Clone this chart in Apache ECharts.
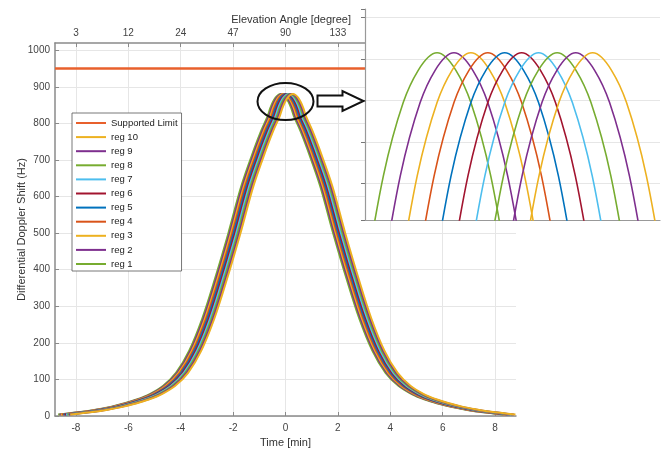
<!DOCTYPE html>
<html>
<head>
<meta charset="utf-8" />
<title>Differential Doppler Shift</title>
<script src="https://cdn.jsdelivr.net/npm/echarts@6/dist/echarts.min.js"></script>
<style>
  html, body { margin: 0; padding: 0; background: #fff; }
  #main { width: 671px; height: 454px; }
</style>
</head>
<body>
<div id="main"></div>
<script type="text/javascript">
  // one pass, centred on its peak (time in min, shift in Hz)
  const profileTime = [-8.5, -8, -7.5, -7, -6.5, -6, -5.5, -5, -4.5, -4, -3.5, -3, -2.5, -2, -1.5, -1, -0.75,
    -0.5, -0.4, -0.3, -0.2, -0.1, 0, 0.1, 0.2, 0.3, 0.4, 0.5,
    0.75, 1, 1.5, 2, 2.5, 3, 3.5, 4, 4.5, 5, 5.5, 6, 6.5, 7, 7.5, 8, 8.5];
  const profileShift = [4, 8, 12, 18, 25, 34, 45, 60, 82, 118, 178, 266, 378, 500, 630, 733, 780,
    820.3, 841.9, 858.7, 870.7, 877.9, 880.3, 877.9, 870.7, 858.7, 841.9, 820.3,
    780, 733, 630, 500, 378, 266, 178, 118, 82, 60, 45, 34, 25, 18, 12, 8, 4];

  // peak time of every region
  const regNames = ['reg 1', 'reg 2', 'reg 3', 'reg 4', 'reg 5', 'reg 6', 'reg 7', 'reg 8', 'reg 9', 'reg 10'];
  const regPeakTime = [-0.18, -0.13, -0.08, -0.03, 0.02, 0.07, 0.12, 0.175, 0.23, 0.28];
  const regColors = ['#77ac30', '#7e2f8e', '#edb120', '#d95319', '#0072bd', '#a2142f', '#4dbeee', '#77ac30', '#7e2f8e', '#edb120'];

  const limitName = 'Supported Limit';
  const limitTime = [-8.8, 8.8];
  const limitShift = [950, 950];

  // top axis: elevation angle at the time ticks
  const timeTicks = [-8, -6, -4, -2, 0, 2];
  const elevationLabels = ['3', '12', '24', '47', '90', '133'];

  const font = 'Liberation Sans, Arial, sans-serif';
  const axisGray = '#8a8a8a';
  const gridGray = '#e6e6e6';

  const myChart = echarts.init(document.getElementById('main'));

  const series = [{
    name: limitName,
    type: 'line',
    xAxisIndex: 0,
    yAxisIndex: 0,
    symbol: 'none',
    z: 3,
    lineStyle: { color: '#e8602c', width: 2.5 },
    itemStyle: { color: '#e8602c' },
    data: limitTime.map((t, i) => [t, limitShift[i]])
  }];

  regNames.forEach((name, r) => {
    const data = profileTime.map((t, k) => [t + regPeakTime[r], profileShift[k]]);
    series.push({
      name: name,
      type: 'line',
      xAxisIndex: 0,
      yAxisIndex: 0,
      symbol: 'none',
      smooth: 0.35,
      z: 2,
      lineStyle: { color: regColors[r], width: 2 },
      itemStyle: { color: regColors[r] },
      data: data
    });
    // same pass again in the zoomed inset
    series.push({
      name: name,
      type: 'line',
      xAxisIndex: 2,
      yAxisIndex: 1,
      symbol: 'none',
      smooth: 0.35,
      z: 12,
      lineStyle: { color: regColors[r], width: 1.6 },
      itemStyle: { color: regColors[r] },
      markLine: r === 0 ? {
        silent: true,
        symbol: 'none',
        label: { show: false },
        lineStyle: { color: gridGray, type: 'solid', width: 1 },
        data: [{ xAxis: 0 }]
      } : undefined,
      data: data
    });
  });

  const legendData = [limitName].concat(regNames.slice().reverse());

  myChart.setOption({
    animation: false,
    textStyle: { fontFamily: font },
    legend: {
      orient: 'vertical',
      left: 72,
      top: 113,
      padding: [5, 4, 2, 3],
      itemWidth: 30,
      itemHeight: 10,
      itemGap: 4.1,
      itemStyle: { opacity: 0 },
      backgroundColor: '#fff',
      borderColor: '#555',
      borderWidth: 0.8,
      borderRadius: 0,
      textStyle: { fontSize: 9.5, color: '#222', fontFamily: font },
      data: legendData
    },
    grid: [
      { left: 55, right: 155, top: 43, bottom: 38 },
      { left: 365, right: 11, top: 9, bottom: 234, show: true, backgroundColor: '#fff', borderWidth: 0, z: 10 }
    ],
    xAxis: [
      {
        type: 'value', gridIndex: 0, position: 'bottom',
        min: -8.8, max: 8.8, splitNumber: 8,
        name: 'Time [min]', nameLocation: 'middle', nameGap: 21,
        nameTextStyle: { fontSize: 11, color: '#333' },
        axisLine: { show: true, onZero: false, lineStyle: { color: axisGray, width: 1.5 } },
        axisTick: { show: true, inside: true, length: 4, lineStyle: { color: axisGray } },
        axisLabel: { fontSize: 10, color: '#444', margin: 7, showMinLabel: false, showMaxLabel: false },
        splitLine: { show: true, showMinLine: false, showMaxLine: false, lineStyle: { color: gridGray } }
      },
      {
        type: 'value', gridIndex: 0, position: 'top',
        min: -8.8, max: 8.8, splitNumber: 8,
        name: 'Elevation Angle [degree]', nameLocation: 'end', nameGap: 0,
        nameTextStyle: { fontSize: 11, color: '#333', align: 'right', verticalAlign: 'bottom', padding: [0, 165, 18, 0] },
        axisLine: { show: true, onZero: false, lineStyle: { color: axisGray, width: 1.5 } },
        axisTick: { show: true, inside: true, length: 4, lineStyle: { color: axisGray } },
        axisLabel: {
          fontSize: 10, color: '#444', margin: 5, showMinLabel: false, showMaxLabel: false,
          formatter: v => {
            const i = timeTicks.findIndex(t => Math.abs(t - v) < 1e-6);
            return i < 0 ? '' : elevationLabels[i];
          }
        },
        splitLine: { show: false }
      },
      {
        type: 'value', gridIndex: 1, z: 11,
        min: -0.393, max: 0.479,
        axisLine: { show: true, onZero: false, lineStyle: { color: '#999', width: 1.2 } },
        axisTick: { show: false },
        axisLabel: { show: false },
        splitLine: { show: false }
      }
    ],
    yAxis: [
      {
        type: 'value', gridIndex: 0,
        min: 0, max: 1020, interval: 100,
        name: 'Differential Doppler Shift (Hz)', nameLocation: 'middle', nameGap: 28,
        nameMoveOverlap: false,
        nameTextStyle: { fontSize: 11, color: '#333' },
        axisLine: { show: true, onZero: false, lineStyle: { color: axisGray, width: 1.5 } },
        axisTick: { show: true, inside: true, length: 4, lineStyle: { color: axisGray } },
        axisLabel: { fontSize: 10, color: '#444', margin: 5, showMaxLabel: false, formatter: v => String(v) },
        splitLine: { show: true, showMaxLine: false, lineStyle: { color: gridGray } }
      },
      {
        type: 'value', gridIndex: 1, z: 11,
        min: 872.24, max: 882.41, splitNumber: 5,
        axisLine: { show: true, onZero: false, lineStyle: { color: '#999', width: 1.2 } },
        axisTick: { show: true, length: 4, lineStyle: { color: '#777' } },
        axisLabel: { show: false },
        splitLine: { show: true, showMinLine: false, showMaxLine: false, lineStyle: { color: gridGray } }
      }
    ],
    series: series
  });

  // ellipse round the peaks and the arrow pointing to the inset
  const c = myChart.convertToPixel({ xAxisIndex: 0, yAxisIndex: 0 }, [0, 860]);
  myChart.setOption({
    graphic: [
      {
        type: 'ellipse', z: 20,
        shape: { cx: c[0], cy: c[1], rx: 28, ry: 18.5 },
        style: { fill: 'none', stroke: '#111', lineWidth: 2 }
      },
      {
        type: 'polygon', z: 20,
        shape: {
          points: [
            [c[0] + 32, c[1] - 6], [c[0] + 57, c[1] - 6], [c[0] + 57, c[1] - 10.5],
            [c[0] + 78, c[1] - 0.5], [c[0] + 57, c[1] + 9.5], [c[0] + 57, c[1] + 5],
            [c[0] + 32, c[1] + 5]
          ]
        },
        style: { fill: '#fff', stroke: '#111', lineWidth: 2 }
      }
    ]
  });
</script>
</body>
</html>
